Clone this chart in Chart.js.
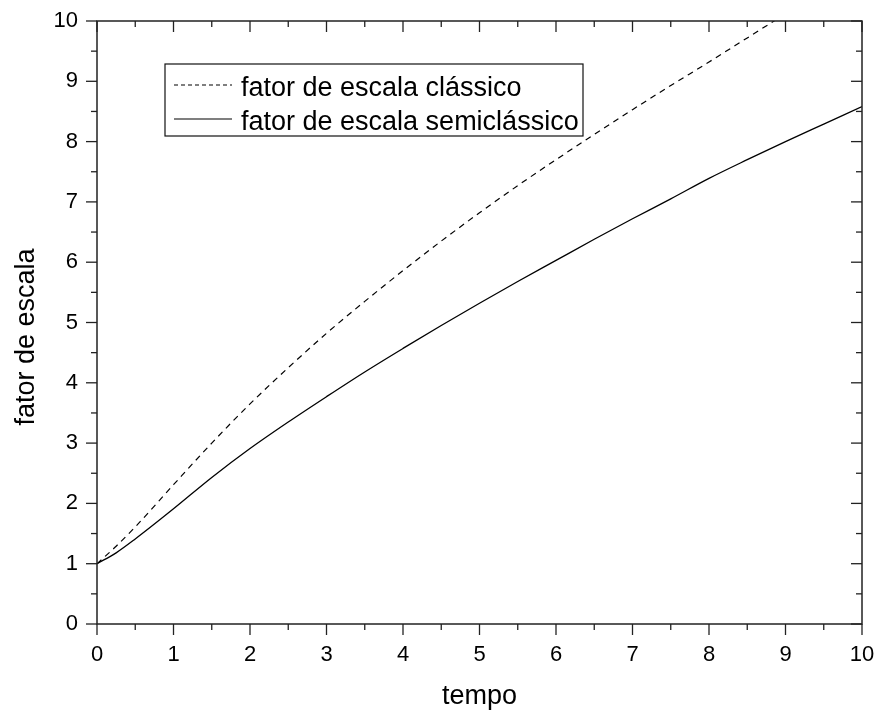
<!DOCTYPE html>
<html>
<head>
<meta charset="utf-8">
<script src="https://cdn.jsdelivr.net/npm/chart.js@4/dist/chart.umd.min.js"></script>
<style>
  html, body { margin: 0; padding: 0; background: #fff; }
  #wrap { width: 877px; height: 713px; }
</style>
</head>
<body>
<div id="wrap"><canvas id="escala"></canvas></div>
<script>
// tempo values and the two scale factor curves
const tempo = [0, 0.25, 0.5, 1, 1.5, 2, 2.5, 3, 3.5, 4, 4.5, 5, 5.5, 6, 6.5, 7, 7.5, 8, 8.5, 9, 9.5, 10];
const classico = [1.00, 1.29, 1.61, 2.31, 3.00, 3.65, 4.25, 4.82, 5.35, 5.86, 6.35, 6.82, 7.27, 7.70, 8.12, 8.53, 8.93, 9.32, 9.72, 10.12, null, null];
const semiclassico = [1.00, 1.18, 1.41, 1.91, 2.43, 2.91, 3.35, 3.77, 4.18, 4.57, 4.95, 5.32, 5.68, 6.03, 6.38, 6.72, 7.05, 7.39, 7.70, 8.00, 8.29, 8.58];
const nomes = ['fator de escala clássico', 'fator de escala semiclássico'];

const FONT = "'Liberation Sans', Arial, sans-serif";

const pts = vals => tempo.map((t, i) => ({ x: t, y: vals[i] }));

// box frame, minor/major ticks on all four sides, y title and legend box
const frameTicks = {
    id: 'frameTicks',
    afterDraw(chart) {
        const { ctx, chartArea: a, scales: { x, y } } = chart;
        ctx.save();
        ctx.strokeStyle = '#222';
        ctx.lineWidth = 1.5;
        ctx.strokeRect(a.left, a.top, a.right - a.left, a.bottom - a.top);

        const seg = (x1, y1, x2, y2) => {
            ctx.beginPath(); ctx.moveTo(x1, y1); ctx.lineTo(x2, y2); ctx.stroke();
        };
        ctx.lineWidth = 1.3;
        for (let v = 0; v <= 10; v += 0.5) {
            const len = v % 1 === 0 ? 11 : 6;
            const px = x.getPixelForValue(v);
            const py = y.getPixelForValue(v);
            seg(px, a.bottom, px, a.bottom + len);
            seg(px, a.top, px, a.top + len);
            seg(a.left - len, py, a.left, py);
            seg(a.right - len, py, a.right, py);
        }

        // y axis title
        ctx.fillStyle = '#000';
        ctx.font = '27px ' + FONT;
        ctx.textAlign = 'center';
        ctx.textBaseline = 'middle';
        ctx.save();
        ctx.translate(27, 337);
        ctx.rotate(-Math.PI / 2);
        ctx.fillText('fator de escala', 0, 0);
        ctx.restore();

        // legend
        const bx = 165, by = 64, bw = 418, bh = 72;
        ctx.fillStyle = '#fff';
        ctx.fillRect(bx, by, bw, bh);
        ctx.strokeStyle = '#111';
        ctx.lineWidth = 1.2;
        ctx.strokeRect(bx, by, bw, bh);
        ctx.fillStyle = '#000';
        ctx.textAlign = 'left';
        ctx.textBaseline = 'alphabetic';
        const rows = [{ ly: 85, ty: 95.5, dash: [4, 3] }, { ly: 119, ty: 129.5, dash: [] }];
        chart.data.datasets.forEach((ds, i) => {
            const r = rows[i];
            ctx.setLineDash(r.dash);
            ctx.lineWidth = 1.2;
            ctx.strokeStyle = '#000';
            seg(174, r.ly, 232, r.ly);
            ctx.setLineDash([]);
            ctx.fillText(ds.label, 241, r.ty);
        });
        ctx.restore();
    }
};

new Chart(document.getElementById('escala'), {
    type: 'line',
    data: {
        datasets: [
            {
                label: nomes[0],
                data: pts(classico),
                borderColor: '#000',
                borderWidth: 1.2,
                borderDash: [6, 5],
                pointRadius: 0,
                cubicInterpolationMode: 'monotone',
                spanGaps: false
            },
            {
                label: nomes[1],
                data: pts(semiclassico),
                borderColor: '#000',
                borderWidth: 1.3,
                pointRadius: 0,
                cubicInterpolationMode: 'monotone'
            }
        ]
    },
    options: {
        responsive: true,
        maintainAspectRatio: false,
        animation: false,
        events: [],
        layout: { padding: { top: 21, right: 15, left: 0, bottom: 0 } },
        plugins: { legend: { display: false }, tooltip: { enabled: false } },
        scales: {
            x: {
                type: 'linear',
                min: 0, max: 10,
                grid: { display: false, drawTicks: false },
                border: { display: false },
                ticks: { stepSize: 1, color: '#000', padding: 18, font: { family: FONT, size: 22 } },
                title: { display: true, text: 'tempo', color: '#000', font: { family: FONT, size: 27 }, padding: { top: 0, bottom: 0 } },
                afterFit(scale) {
                    scale.height = 89;
                    scale.paddingLeft = 0;
                    scale.paddingRight = 0;
                }
            },
            y: {
                min: 0, max: 10,
                grid: { display: false, drawTicks: false },
                border: { display: false },
                ticks: { stepSize: 1, color: '#000', padding: 19, font: { family: FONT, size: 22 } },
                afterFit(scale) {
                    scale.width = 97;
                    scale.paddingTop = 0;
                    scale.paddingBottom = 0;
                }
            }
        }
    },
    plugins: [frameTicks]
});
</script>
</body>
</html>
